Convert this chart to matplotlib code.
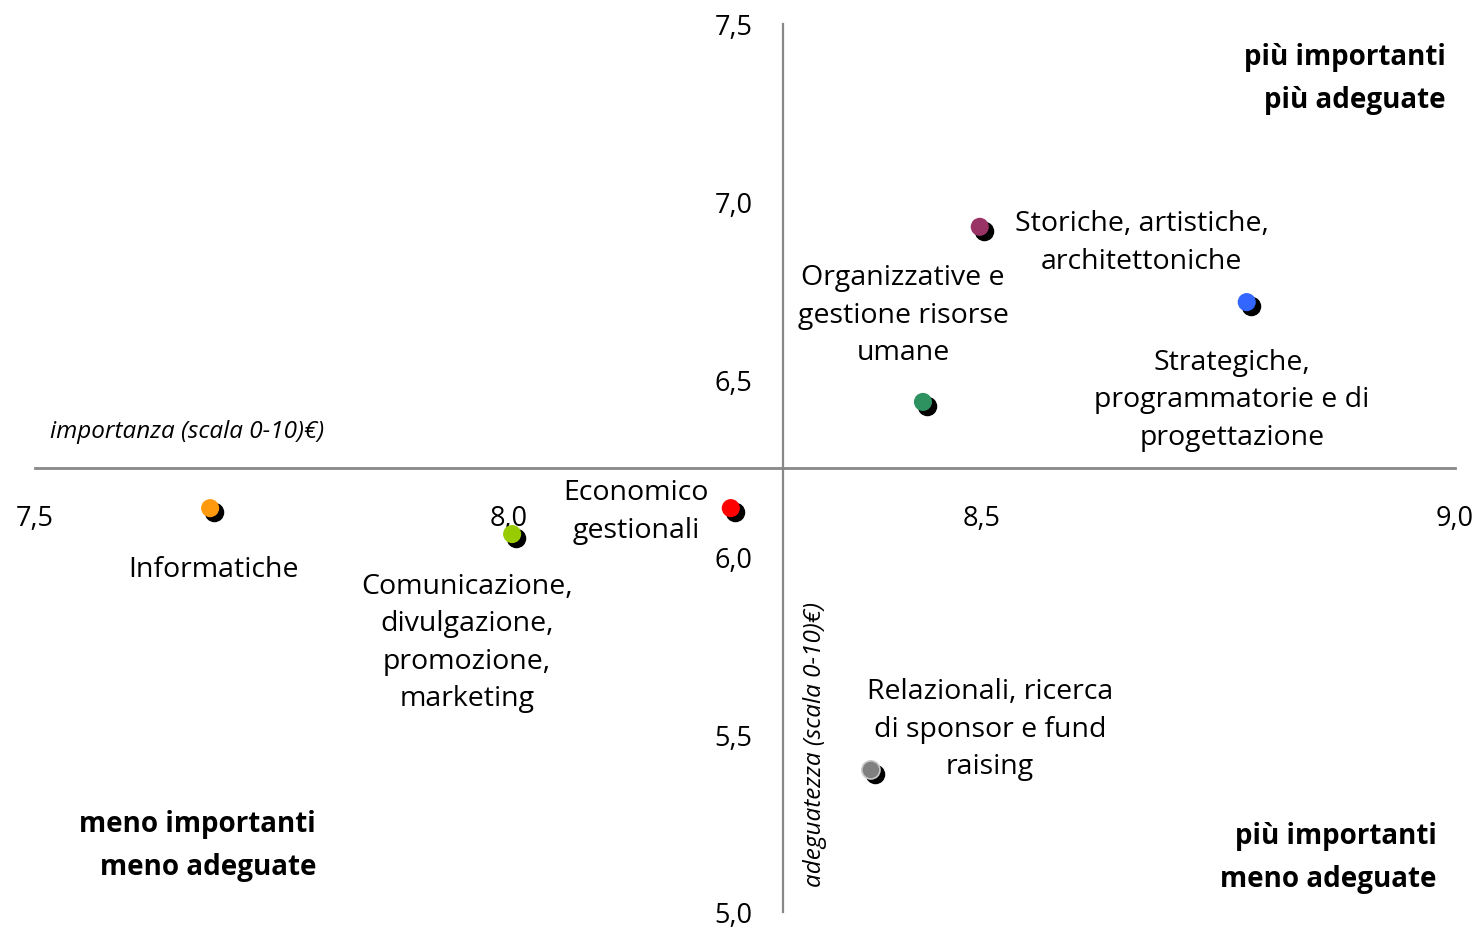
import matplotlib
matplotlib.use("Agg")
import matplotlib.pyplot as plt
import matplotlib.transforms as mtransforms

plt.rcParams['font.family'] = ['Open Sans', 'DejaVu Sans']

# ---- data ----
categories = ["Informatiche",
              "Comunicazione,\ndivulgazione,\npromozione,\nmarketing",
              "Economico\ngestionali",
              "Organizzative e\ngestione risorse\numane",
              "Storiche, artistiche,\narchitettoniche",
              "Strategiche,\nprogrammatorie e di\nprogettazione",
              "Relazionali, ricerca\ndi sponsor e fund\nraising"]
importanza = [7.685, 8.004, 8.235, 8.438, 8.498, 8.780, 8.383]
adeguatezza = [6.137, 6.064, 6.137, 6.436, 6.929, 6.717, 5.400]
colors = ["#FF9A0E", "#99CC00", "#FF0000", "#2E9160", "#993366", "#3366FF", "#808080"]
edgecolors = ["none", "none", "none", "none", "none", "none", "#C8C8C8"]
x_ticks = [7.5, 8.0, 8.5, 9.0]
y_ticks = [5.0, 5.5, 6.0, 6.5, 7.0, 7.5]
x_cross = 8.29
y_cross = 6.25

# label offsets in pixels (dx, dy) of label centre from point
label_pos = [(3, -61), (-45, -108), (-95, -3), (-20, 87), (162, -15),
             (-15, -97), (119, 41)]

W, H = 1479, 928
fig = plt.figure(figsize=(W / 100, H / 100), dpi=100)
ax = fig.add_axes([35 / W, 15 / H, 1420 / W, 888 / H])
ax.set_xlim(7.5, 9.0)
ax.set_ylim(5.0, 7.5)

for s in ['top', 'right']:
    ax.spines[s].set_visible(False)
ax.spines['left'].set_position(('data', x_cross))
ax.spines['bottom'].set_position(('data', y_cross))
ax.spines['left'].set_color('#888888')
ax.spines['bottom'].set_color('#888888')
ax.spines['left'].set_linewidth(1.6)
ax.spines['bottom'].set_linewidth(2.0)

ax.set_xticks(x_ticks)
ax.set_yticks(y_ticks)
ax.set_xticklabels([f"{v:.1f}".replace('.', ',') for v in x_ticks])
ax.set_yticklabels([f"{v:.1f}".replace('.', ',') for v in y_ticks])
ax.tick_params(axis='x', length=0, pad=26, labelsize=19.5)
ax.tick_params(axis='y', length=0, pad=22, labelsize=19.5)

shadow = mtransforms.offset_copy(ax.transData, fig=fig, x=4, y=-4, units='dots')
ax.scatter(importanza, adeguatezza, s=170, color='black', transform=shadow,
           zorder=3, clip_on=False)
ax.scatter(importanza, adeguatezza, s=170, c=colors, edgecolors=edgecolors,
           linewidths=1.2, zorder=4, clip_on=False)

for name, x, y, (dx, dy) in zip(categories, importanza, adeguatezza, label_pos):
    ax.annotate(name, (x, y), xytext=(dx, dy), textcoords='offset pixels',
                ha='center', va='center', fontsize=20.5, linespacing=1.45,
                multialignment='center')

# axis titles
fig.text(50 / W, 1 - 432 / H, "importanza (scala 0-10)€)", style='italic',
         fontsize=17.5, ha='left', va='center')
fig.text(815 / W, 1 - 745 / H, "adeguatezza (scala 0-10)€)", style='italic',
         fontsize=17.5, ha='center', va='center', rotation=90)

# quadrant labels
fig.text(1446 / W, 1 - 79 / H, "più importanti\npiù adeguate", fontweight='bold',
         fontsize=20, ha='right', va='center', multialignment='right', linespacing=1.65)
fig.text(316 / W, 1 - 846 / H, "meno importanti\nmeno adeguate", fontweight='bold',
         fontsize=20, ha='right', va='center', multialignment='right', linespacing=1.65)
fig.text(1437 / W, 1 - 858 / H, "più importanti\nmeno adeguate", fontweight='bold',
         fontsize=20, ha='right', va='center', multialignment='right', linespacing=1.65)

fig.savefig("out.png", dpi=100, facecolor='white')
